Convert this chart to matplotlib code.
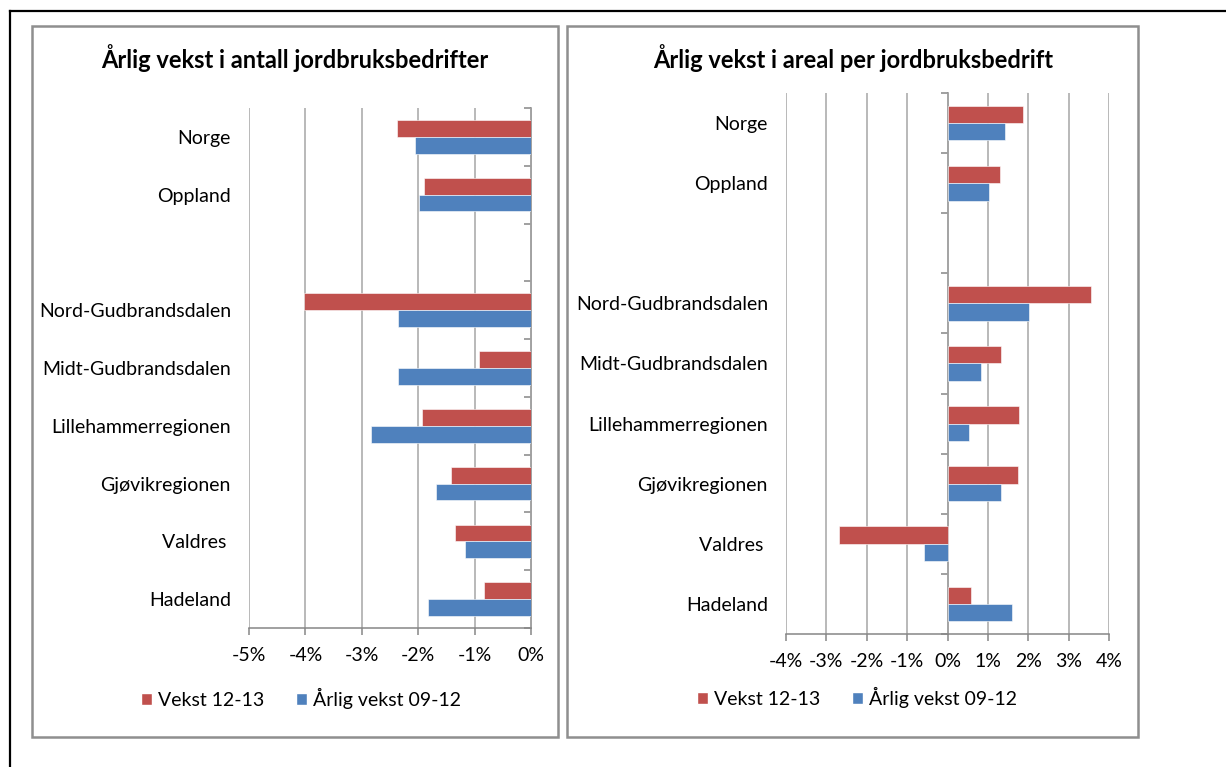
import numpy as np
import matplotlib
matplotlib.use('Agg')
import matplotlib.pyplot as plt
from matplotlib.patches import Rectangle, Patch
from matplotlib.lines import Line2D
from matplotlib.ticker import FuncFormatter, MultipleLocator

plt.rcParams['font.family'] = ['Lato', 'DejaVu Sans']

# data (percent per year)
categories = ['Norge', 'Oppland', '', 'Nord-Gudbrandsdalen', 'Midt-Gudbrandsdalen',
              'Lillehammerregionen', 'Gjøvikregionen', 'Valdres ', 'Hadeland']
antall_1213 = [-2.38, -1.90, np.nan, -4.03, -0.92, -1.94, -1.42, -1.35, -0.83]
antall_0912 = [-2.06, -1.99, np.nan, -2.35, -2.35, -2.83, -1.69, -1.17, -1.83]
areal_1213 = [1.86, 1.29, np.nan, 3.55, 1.32, 1.77, 1.74, -2.69, 0.59]
areal_0912 = [1.42, 1.03, np.nan, 2.01, 0.84, 0.53, 1.32, -0.58, 1.60]
series_names = ['Vekst 12-13', 'Årlig vekst 09-12']

RED = '#C0504D'
BLUE = '#4F81BD'
GRID = '#a6a6a6'
AXIS = '#868686'
FS = 14

W, H = 1226, 767
fig = plt.figure(figsize=(W / 100, H / 100), dpi=100)


def px(x0, y0, x1, y1):
    # pixel box -> figure fraction [left, bottom, width, height]
    return [x0 / W, 1 - y1 / H, (x1 - x0) / W, (y1 - y0) / H]


def draw_panel(rect, s1, s2, xmin, xmax, title, title_x, legend_x, legend_y):
    ax = fig.add_axes(px(*rect))
    y = np.arange(len(categories))
    h = 0.29
    ax.barh(y - h / 2, s1, height=h, color=RED, edgecolor='white', linewidth=0.4, zorder=3)
    ax.barh(y + h / 2, s2, height=h, color=BLUE, edgecolor='white', linewidth=0.4, zorder=3)
    ax.set_xlim(xmin, xmax)
    ax.set_ylim(len(categories) - 0.5, -0.5)

    ax.xaxis.set_major_locator(MultipleLocator(1))
    ax.xaxis.set_major_formatter(FuncFormatter(lambda v, p: f'{v:.0f}%'))
    ax.grid(axis='x', color=GRID, linewidth=1.1, zorder=0)
    ax.set_axisbelow(True)

    for s in ['top', 'right', 'left']:
        ax.spines[s].set_visible(False)
    ax.spines['bottom'].set_color(AXIS)
    ax.spines['bottom'].set_linewidth(1.1)
    ax.tick_params(axis='x', direction='out', length=5, width=1.1, color=AXIS,
                   labelsize=FS, pad=9)
    ax.set_yticks(y)
    ax.set_yticklabels(categories)
    ax.tick_params(axis='y', length=0, labelsize=FS, pad=13)

    # vertical axis line at 0 with category separator ticks
    loc = (0 - xmin) / (xmax - xmin)
    sec = ax.secondary_yaxis(loc)
    sec.spines[:].set_color(AXIS)
    sec.spines[:].set_linewidth(1.1)
    sec.set_yticks(np.arange(len(categories) + 1) - 0.5)
    sec.set_yticklabels([])
    sec.tick_params(axis='y', direction='in', length=5, width=1.1, color=AXIS)

    fig.text(title_x / W, 1 - 58 / H, title, ha='center', va='center',
             fontsize=17, fontweight='bold')
    handles = [Patch(facecolor=RED, edgecolor='white'), Patch(facecolor=BLUE, edgecolor='white')]
    fig.legend(handles, series_names, loc='center', ncol=2, frameon=False,
               bbox_to_anchor=(legend_x / W, 1 - legend_y / H), fontsize=FS,
               handlelength=0.6, handleheight=0.6, handletextpad=0.3, columnspacing=1.6)
    return ax


draw_panel((249, 108, 531, 628), antall_1213, antall_0912, -5, 0,
           'Årlig vekst i antall jordbruksbedrifter', 295, 301, 698)
draw_panel((786, 93, 1109, 634), areal_1213, areal_0912, -4, 4,
           'Årlig vekst i areal per jordbruksbedrift', 853, 857, 697)

# panel frames
for x0, x1 in [(32, 558), (567, 1138)]:
    fig.patches.append(Rectangle((x0 / W, 1 - 737 / H), (x1 - x0) / W, (737 - 26) / H,
                                 transform=fig.transFigure, fill=False,
                                 edgecolor='#8f8f8f', linewidth=1.8))
# outer black frame (left and top edges)
fig.add_artist(Line2D([10 / W, 10 / W], [0, 1 - 11 / H], color='black', linewidth=1.6,
                      transform=fig.transFigure))
fig.add_artist(Line2D([10 / W, 1], [1 - 11 / H, 1 - 11 / H], color='black', linewidth=1.6,
                      transform=fig.transFigure))

fig.savefig('out.png', dpi=100)
